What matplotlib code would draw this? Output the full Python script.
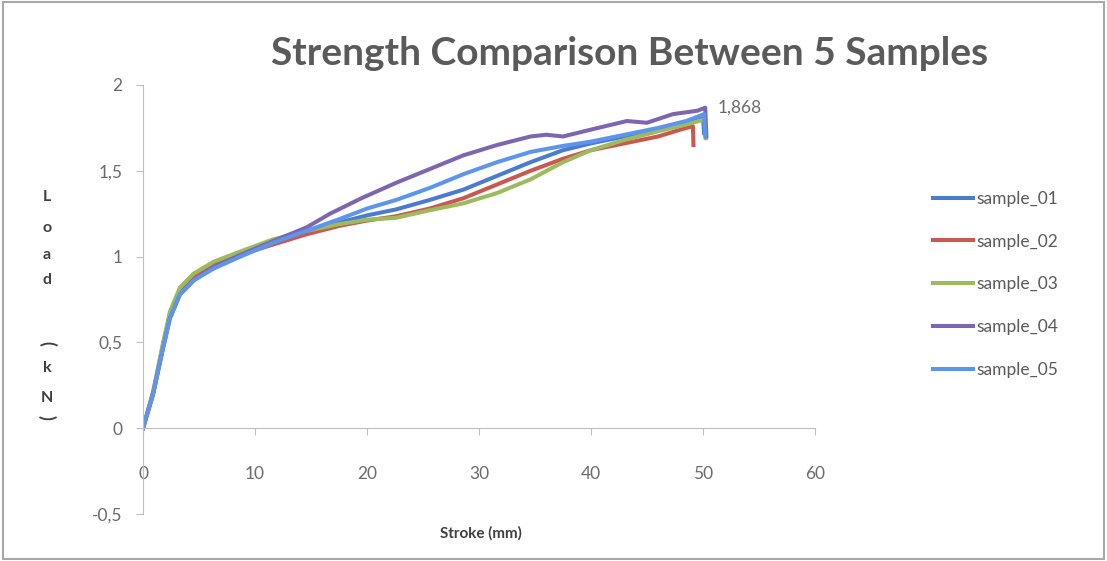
import matplotlib
matplotlib.use('Agg')
import matplotlib.pyplot as plt
from matplotlib.patches import Rectangle

# Data (stroke in mm, load in kN)

x01 = [0, 0.9, 1.8, 2.4, 3.3, 4.5, 6.3, 8.7, 11.6, 14.6, 17.6, 20.0, 22.6, 25.6, 28.6, 31.6, 34.6, 37.5, 40.0, 43.0, 46.0, 48.5, 50.0, 50.1]
y01 = [0, 0.20, 0.48, 0.65, 0.79, 0.87, 0.94, 1.01, 1.08, 1.14, 1.20, 1.24, 1.275, 1.33, 1.39, 1.47, 1.55, 1.62, 1.66, 1.70, 1.74, 1.78, 1.81, 1.72]

x02 = [0, 0.9, 1.8, 2.4, 3.3, 4.5, 6.3, 8.7, 11.6, 14.6, 17.6, 20.0, 22.6, 25.6, 28.6, 31.6, 34.6, 37.5, 40.0, 43.0, 46.0, 48.0, 49.1, 49.15]
y02 = [0, 0.21, 0.49, 0.66, 0.80, 0.88, 0.95, 1.01, 1.07, 1.13, 1.18, 1.21, 1.235, 1.28, 1.34, 1.42, 1.50, 1.57, 1.62, 1.66, 1.70, 1.74, 1.76, 1.65]

x03 = [0, 0.9, 1.8, 2.4, 3.3, 4.5, 6.3, 8.7, 11.6, 14.6, 17.6, 20.0, 22.6, 25.6, 28.6, 31.6, 34.6, 37.5, 40.0, 43.0, 46.0, 48.5, 50.2, 50.25]
y03 = [0, 0.21, 0.50, 0.68, 0.82, 0.90, 0.97, 1.03, 1.10, 1.15, 1.19, 1.215, 1.226, 1.27, 1.31, 1.37, 1.45, 1.55, 1.62, 1.68, 1.73, 1.77, 1.80, 1.69]

x04 = [0, 0.9, 1.8, 2.4, 3.3, 4.5, 6.3, 8.7, 11.6, 14.6, 16.7, 19.5, 22.6, 25.6, 28.6, 31.6, 34.6, 36.0, 37.5, 40.0, 43.2, 45.0, 47.3, 49.5, 50.2, 50.3]
y04 = [0, 0.20, 0.47, 0.64, 0.78, 0.86, 0.94, 1.01, 1.09, 1.17, 1.25, 1.34, 1.43, 1.51, 1.59, 1.65, 1.70, 1.71, 1.70, 1.74, 1.79, 1.78, 1.83, 1.85, 1.868, 1.70]

x05 = [0, 0.9, 1.8, 2.4, 3.3, 4.5, 6.3, 8.7, 11.6, 14.6, 17.6, 20.0, 22.6, 25.6, 28.6, 31.6, 34.6, 37.5, 40.0, 43.0, 46.0, 48.5, 50.1, 50.2]
y05 = [0, 0.20, 0.47, 0.64, 0.78, 0.86, 0.93, 1.00, 1.08, 1.15, 1.22, 1.28, 1.33, 1.40, 1.48, 1.55, 1.61, 1.645, 1.67, 1.71, 1.75, 1.79, 1.83, 1.70]

labels = ['sample_01', 'sample_02', 'sample_03', 'sample_04', 'sample_05']
colors = ['#4A7BCF', '#C9584F', '#9DBB5E', '#7D66B0', '#5E95EC']
peak_x, peak_y = 50.2, 1.868

plt.rcParams['font.family'] = ['Lato', 'DejaVu Sans']

fig = plt.figure(figsize=(11.07, 5.61), dpi=100)
ax = fig.add_axes([0.1292, 0.0838, 0.607, 0.7647])

series = [(x01, y01), (x02, y02), (x03, y03), (x04, y04), (x05, y05)]
for (xs, ys), lab, c in zip(series, labels, colors):
    ax.plot(xs, ys, color=c, lw=2.9, label=lab, solid_joinstyle='round')

ax.set_xlim(0, 60)
ax.set_ylim(-0.5, 2)
ax.set_xticks(range(0, 61, 10))
ax.set_yticks([-0.5, 0, 0.5, 1, 1.5, 2])
ax.set_yticklabels(['-0,5', '0', '0,5', '1', '1,5', '2'])

for s in ['top', 'right']:
    ax.spines[s].set_visible(False)
ax.spines['bottom'].set_position(('data', 0))
ax.spines['left'].set_color('#BFBFBF')
ax.spines['bottom'].set_color('#BFBFBF')
ax.tick_params(axis='both', colors='#BFBFBF', labelcolor='#6B6B6B', labelsize=12.5, length=5)
ax.tick_params(axis='x', pad=22)
ax.tick_params(axis='y', pad=10)

ax.annotate('1,868', (peak_x, peak_y), xytext=(9, 0), textcoords='offset points',
            va='center', ha='left', fontsize=12.5, color='#6B6B6B')

fig.text(0.569, 0.905, 'Strength Comparison Between 5 Samples', ha='center', va='center',
         fontsize=28, fontweight='bold', color='#5A5A5A')
fig.text(0.434, 0.05, 'Stroke (mm)', ha='center', va='center',
         fontsize=11, fontweight='bold', color='#404040')

# vertical y label, one letter per line; brackets turned on their side
ylab = ['L', 'o', 'a', 'd', '(', 'k', 'N', ')']
ypos = [197, 228, 255, 280, 343, 368, 398, 417]
for ch, py in zip(ylab, ypos):
    if ch in '()':
        fig.text(47 / 1107, 1 - py / 561, ch, ha='center', va='center', rotation=-90,
                 rotation_mode='anchor', fontsize=13, fontweight='bold', color='#404040')
    else:
        fig.text(47 / 1107, 1 - py / 561, ch, ha='center', va='center',
                 fontsize=11.5, fontweight='bold', color='#404040')

fig.legend(loc='upper left', bbox_to_anchor=(0.829, 0.688), frameon=False,
           fontsize=12.5, handlelength=2.3, handletextpad=0.15, labelspacing=1.55,
           labelcolor='#5A5A5A')

fig.patches.append(Rectangle((0.003, 0.003), 0.994, 0.994, transform=fig.transFigure,
                             fill=False, edgecolor='#A8A8A8', lw=1.5))

fig.savefig('out.png', dpi=100, facecolor='white')
